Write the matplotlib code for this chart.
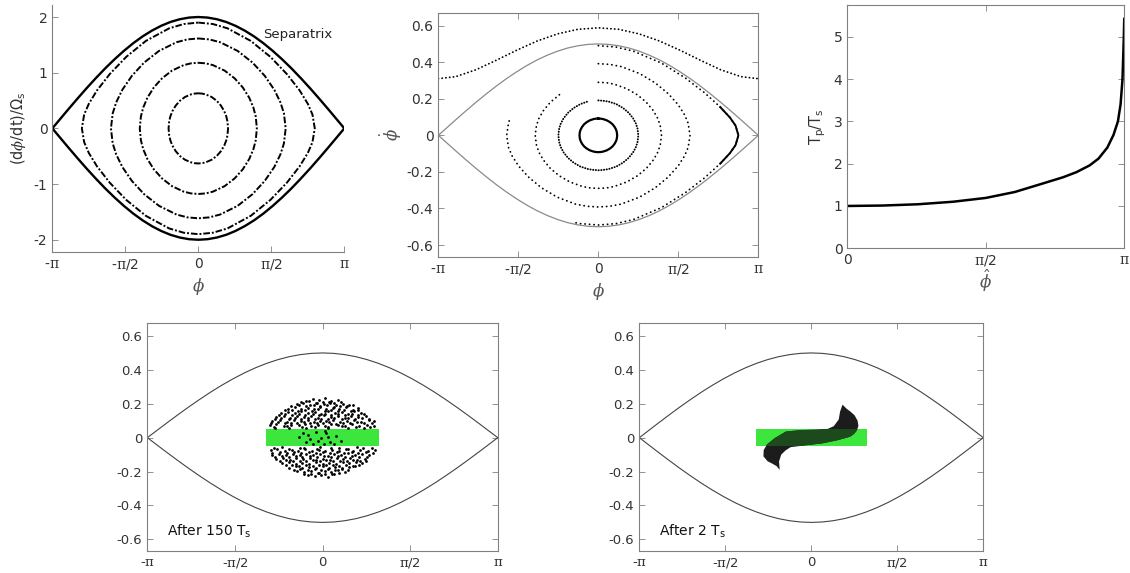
import numpy as np
import matplotlib
matplotlib.use("Agg")
import matplotlib.pyplot as plt
from matplotlib.patches import Polygon, Rectangle

plt.rcParams.update({
    "font.family": "DejaVu Sans",
    "mathtext.fontset": "custom",
    "mathtext.rm": "DejaVu Serif",
    "mathtext.it": "DejaVu Serif:italic",
    "mathtext.sf": "DejaVu Sans",
    "mathtext.bf": "DejaVu Serif:bold",
    "axes.unicode_minus": False,
})

PI = np.pi
TICK_C = "#333333"
SPINE_C = "#808080"
LABEL_C = "#555555"
GREEN = "#3ce63c"
DARK_GREEN = "#1d4a1d"

phi_ticks = [-PI, -PI / 2, 0, PI / 2, PI]
phi_labels = [r"-$\mathrm{\pi}$", r"-$\mathrm{\pi}$/2", "0", r"$\mathrm{\pi}$/2", r"$\mathrm{\pi}$"]

# separatrix, upper half for phi >= 0, in (dphi/dt)/Omega_s units (mirror symmetric)
sep_phi = [0, 0.2, 0.4, 0.6, 0.8, 1.0, 1.2, 1.4, 1.6, 1.8, 2.0, 2.2, 2.4, 2.6, 2.8, 3.0, PI]
sep_rate = [2.0, 1.99, 1.96, 1.911, 1.842, 1.755, 1.651, 1.53, 1.393, 1.243, 1.081,
            0.907, 0.725, 0.535, 0.34, 0.141, 0.0]

# panel (a): closed orbits, one quarter each (phi >= 0, rate >= 0)
orbit_a_phi = [
    [0, 0.08, 0.16, 0.288, 0.397, 0.486, 0.557, 0.602, 0.627, 0.64],
    [0, 0.158, 0.315, 0.567, 0.781, 0.958, 1.096, 1.184, 1.235, 1.26],
    [0, 0.235, 0.47, 0.846, 1.166, 1.429, 1.636, 1.767, 1.842, 1.88],
    [0, 0.313, 0.627, 1.128, 1.554, 1.905, 2.180, 2.356, 2.456, 2.506],
]
orbit_a_rate = [
    [0.63, 0.625, 0.61, 0.563, 0.495, 0.41, 0.311, 0.215, 0.125, 0],
    [1.178, 1.168, 1.136, 1.037, 0.899, 0.734, 0.550, 0.377, 0.217, 0],
    [1.615, 1.598, 1.547, 1.391, 1.182, 0.944, 0.692, 0.467, 0.271, 0],
    [1.9, 1.874, 1.797, 1.571, 1.282, 0.976, 0.682, 0.442, 0.249, 0],
]

# panel (b): tracked particles, quarter profiles plus where each track stops
track_phi = [
    [0, 0.046, 0.093, 0.167, 0.229, 0.281, 0.322, 0.348, 0.363, 0.37],
    [0, 0.098, 0.196, 0.353, 0.487, 0.597, 0.683, 0.738, 0.769, 0.785],
    [0, 0.155, 0.31, 0.558, 0.769, 0.942, 1.079, 1.166, 1.215, 1.24],
    [0, 0.225, 0.45, 0.81, 1.116, 1.368, 1.566, 1.692, 1.764, 1.8],
    [0, 0.344, 0.6875, 1.2375, 1.705, 2.09, 2.3925, 2.585, 2.695, 2.75],
]
track_rate = [
    [0.092, 0.0913, 0.089, 0.082, 0.072, 0.060, 0.045, 0.031, 0.018, 0],
    [0.191, 0.189, 0.185, 0.171, 0.149, 0.123, 0.093, 0.064, 0.037, 0],
    [0.29, 0.288, 0.28, 0.255, 0.221, 0.181, 0.135, 0.093, 0.053, 0],
    [0.392, 0.388, 0.376, 0.338, 0.287, 0.229, 0.168, 0.113, 0.066, 0],
    [0.4905, 0.483, 0.4606, 0.3955, 0.3143, 0.2317, 0.1548, 0.0971, 0.0529, 0],
]
track_end = [None, (-0.2, 0.186), (-0.72, 0.233), (-1.73, 0.098), (-0.49, -0.476)]

rot_phi = [-PI, -2.8, -2.4, -2.0, -1.6, -1.2, -0.8, -0.4, 0, 0.4, 0.8, 1.2, 1.6, 2.0, 2.4, 2.8, PI]
rot_rate = [0.31, 0.321, 0.359, 0.411, 0.466, 0.516, 0.555, 0.58, 0.588,
            0.58, 0.555, 0.516, 0.466, 0.411, 0.359, 0.321, 0.31]

# panel (c): period ratio vs amplitude
amp = [0, 0.4, 0.8, 1.2, 1.571, 1.9, 2.2, 2.45, 2.6, 2.75, 2.85, 2.95, 3.02, 3.07, 3.1, 3.122, 3.137, 3.1416]
period_ratio = [1.0, 1.01, 1.04, 1.1, 1.19, 1.33, 1.52, 1.68, 1.8, 1.96, 2.12, 2.38, 2.68, 3.0, 3.4, 4.0, 5.0, 5.42]

# initial green bunch
band_phi = [-1.01, 1.01]
band_lo, band_hi = -0.05, 0.05

# bunch after 150 Ts (estimated particle positions)
cloud = [
    (-0.3, 0.215), (-0.17, 0.228), (-0.06, 0.221), (0.05, 0.232), (0.16, 0.218), (0.27, 0.225),
    (-0.46, 0.197), (-0.35, 0.205), (-0.22, 0.193), (-0.1, 0.207), (0.02, 0.199), (0.14, 0.204),
    (0.24, 0.192), (0.37, 0.2), (0.47, 0.19),
    (-0.62, 0.172), (-0.5, 0.18), (-0.39, 0.168), (-0.27, 0.178), (-0.15, 0.17), (-0.04, 0.182),
    (0.07, 0.168), (0.18, 0.177), (0.3, 0.171), (0.42, 0.181), (0.55, 0.166), (0.63, 0.175),
    (-0.74, 0.146), (-0.62, 0.153), (-0.5, 0.143), (-0.38, 0.156), (-0.26, 0.147), (-0.13, 0.152),
    (-0.02, 0.141), (0.1, 0.155), (0.22, 0.145), (0.34, 0.151), (0.46, 0.142), (0.57, 0.157), (0.69, 0.148),
    (-0.83, 0.122), (-0.7, 0.128), (-0.58, 0.119), (-0.45, 0.13), (-0.33, 0.121), (-0.21, 0.127),
    (-0.09, 0.118), (0.03, 0.131), (0.15, 0.12), (0.27, 0.126), (0.4, 0.119), (0.51, 0.129),
    (0.64, 0.121), (0.78, 0.127),
    (-0.9, 0.097), (-0.77, 0.104), (-0.64, 0.095), (-0.52, 0.103), (-0.39, 0.098), (-0.27, 0.106),
    (-0.16, 0.094), (-0.05, 0.101), (0.07, 0.096), (0.19, 0.104), (0.31, 0.093), (0.44, 0.1),
    (0.56, 0.106), (0.69, 0.095), (0.83, 0.102), (0.92, 0.097),
    (-0.95, 0.072), (-0.83, 0.079), (-0.7, 0.07), (-0.57, 0.077), (-0.43, 0.074), (-0.31, 0.081),
    (-0.2, 0.069), (-0.08, 0.076), (0.04, 0.071), (0.15, 0.079), (0.28, 0.073), (0.4, 0.067),
    (0.53, 0.078), (0.66, 0.071), (0.79, 0.076), (0.93, 0.07),
    (-0.85, 0.056), (-0.6, 0.06), (-0.3, 0.055), (0.1, 0.058), (0.45, 0.057), (0.75, 0.06),
    (-0.35, 0.03), (-0.22, -0.01), (-0.12, 0.035), (-0.03, 0.0), (0.06, 0.028), (0.14, -0.025),
    (0.24, 0.012), (-0.18, -0.035), (0.02, -0.04), (0.33, -0.02), (-0.42, 0.005),
    (-0.72, -0.057), (-0.4, -0.06), (-0.05, -0.056), (0.3, -0.058), (0.62, -0.055), (0.88, -0.06),
    (-0.93, -0.074), (-0.81, -0.068), (-0.68, -0.079), (-0.55, -0.071), (-0.44, -0.077), (-0.32, -0.069),
    (-0.19, -0.08), (-0.07, -0.072), (0.05, -0.078), (0.17, -0.07), (0.3, -0.076), (0.42, -0.068),
    (0.55, -0.079), (0.68, -0.073), (0.82, -0.077), (0.94, -0.071),
    (-0.91, -0.101), (-0.79, -0.095), (-0.66, -0.105), (-0.53, -0.097), (-0.41, -0.103), (-0.29, -0.094),
    (-0.17, -0.104), (-0.04, -0.098), (0.09, -0.106), (0.21, -0.095), (0.33, -0.1), (0.46, -0.093),
    (0.58, -0.104), (0.71, -0.097), (0.84, -0.103),
    (-0.84, -0.127), (-0.71, -0.12), (-0.59, -0.13), (-0.47, -0.122), (-0.35, -0.128), (-0.23, -0.119),
    (-0.11, -0.13), (0.01, -0.123), (0.13, -0.129), (0.25, -0.12), (0.37, -0.127), (0.5, -0.121),
    (0.62, -0.13), (0.76, -0.124),
    (-0.73, -0.152), (-0.6, -0.145), (-0.48, -0.155), (-0.36, -0.147), (-0.24, -0.153), (-0.12, -0.144),
    (0.0, -0.156), (0.12, -0.148), (0.24, -0.154), (0.36, -0.145), (0.48, -0.152), (0.6, -0.146), (0.71, -0.151),
    (-0.6, -0.177), (-0.48, -0.17), (-0.36, -0.18), (-0.24, -0.172), (-0.12, -0.179), (0.0, -0.169),
    (0.11, -0.178), (0.23, -0.171), (0.35, -0.18), (0.47, -0.173), (0.59, -0.168),
    (-0.45, -0.196), (-0.33, -0.203), (-0.2, -0.194), (-0.08, -0.206), (0.04, -0.197), (0.16, -0.204),
    (0.28, -0.193), (0.4, -0.2),
    (-0.26, -0.219), (-0.13, -0.228), (-0.02, -0.222), (0.1, -0.231), (0.21, -0.217),
]
cloud_extra = [
    (-0.38, 0.208), (-0.24, 0.214), (-0.11, 0.206), (0.0, 0.213), (0.12, 0.209), (0.21, 0.204), (0.33, 0.211),
    (-0.56, 0.186), (-0.43, 0.19), (-0.3, 0.184), (-0.16, 0.192), (-0.05, 0.186), (0.08, 0.19),
    (0.2, 0.183), (0.31, 0.189), (0.43, 0.185), (0.54, 0.191),
    (-0.68, 0.161), (-0.55, 0.166), (-0.44, 0.159), (-0.32, 0.164), (-0.19, 0.16), (-0.08, 0.167),
    (0.04, 0.158), (0.15, 0.165), (0.27, 0.16), (0.39, 0.163), (0.51, 0.159), (0.64, 0.166),
    (-0.79, 0.136), (-0.67, 0.14), (-0.54, 0.134), (-0.42, 0.139), (-0.31, 0.135), (-0.18, 0.141),
    (-0.06, 0.134), (0.05, 0.139), (0.16, 0.133), (0.28, 0.14), (0.4, 0.136), (0.52, 0.138),
    (0.63, 0.133), (0.75, 0.139),
    (-0.86, 0.111), (-0.74, 0.115), (-0.61, 0.109), (-0.5, 0.114), (-0.38, 0.11), (-0.26, 0.116),
    (-0.14, 0.109), (-0.03, 0.113), (0.09, 0.108), (0.21, 0.115), (0.34, 0.11), (0.46, 0.114),
    (0.58, 0.109), (0.71, 0.116), (0.84, 0.111),
    (-0.92, 0.086), (-0.8, 0.09), (-0.68, 0.084), (-0.56, 0.089), (-0.45, 0.085), (-0.33, 0.091),
    (-0.22, 0.084), (-0.1, 0.088), (0.01, 0.085), (0.12, 0.09), (0.24, 0.083), (0.37, 0.089),
    (0.5, 0.086), (0.61, 0.091), (0.74, 0.084), (0.88, 0.088),
    (-0.87, 0.063), (-0.63, 0.066), (-0.37, 0.061), (-0.13, 0.064), (0.09, 0.062), (0.34, 0.066),
    (0.6, 0.061), (0.85, 0.064),
    (-0.27, 0.018), (-0.08, -0.018), (0.1, 0.005), (0.2, -0.038), (-0.3, -0.028), (0.04, 0.042),
    (-0.87, -0.063), (-0.6, -0.065), (-0.33, -0.062), (-0.1, -0.066), (0.16, -0.063), (0.45, -0.064),
    (0.72, -0.062),
    (-0.9, -0.088), (-0.77, -0.085), (-0.64, -0.091), (-0.51, -0.086), (-0.38, -0.09), (-0.25, -0.084),
    (-0.12, -0.089), (0.01, -0.086), (0.14, -0.091), (0.26, -0.085), (0.39, -0.09), (0.52, -0.084),
    (0.64, -0.089), (0.77, -0.086), (0.9, -0.09),
    (-0.85, -0.113), (-0.72, -0.11), (-0.6, -0.116), (-0.48, -0.111), (-0.36, -0.115), (-0.23, -0.109),
    (-0.1, -0.114), (0.03, -0.11), (0.15, -0.116), (0.28, -0.111), (0.41, -0.115), (0.53, -0.109),
    (0.66, -0.114), (0.8, -0.112),
    (-0.77, -0.138), (-0.65, -0.134), (-0.53, -0.14), (-0.41, -0.135), (-0.29, -0.139), (-0.17, -0.133),
    (-0.05, -0.138), (0.07, -0.134), (0.19, -0.14), (0.31, -0.135), (0.43, -0.139), (0.55, -0.134),
    (0.67, -0.138), (0.77, -0.136),
    (-0.66, -0.163), (-0.54, -0.16), (-0.42, -0.166), (-0.3, -0.161), (-0.18, -0.165), (-0.06, -0.159),
    (0.06, -0.164), (0.18, -0.16), (0.3, -0.166), (0.42, -0.161), (0.54, -0.165), (0.65, -0.16),
    (-0.52, -0.188), (-0.4, -0.185), (-0.27, -0.19), (-0.14, -0.186), (-0.02, -0.191), (0.1, -0.185),
    (0.22, -0.19), (0.34, -0.186), (0.46, -0.189),
    (-0.33, -0.212), (-0.2, -0.215), (-0.07, -0.211), (0.05, -0.216), (0.17, -0.212), (0.29, -0.21),
]

# bunch after 2 Ts: outline of the sheared filament
s_phi = [0.57, 0.64, 0.71, 0.79, 0.845, 0.86, 0.83, 0.78, 0.71, 0.49, 0.21, -0.13, -0.38, -0.47,
         -0.55, -0.59, -0.578, -0.634, -0.72, -0.8, -0.875, -0.87, -0.81, -0.67, -0.466, -0.185,
         0.095, 0.3, 0.41, 0.5, 0.525]
s_rate = [0.195, 0.172, 0.155, 0.132, 0.1, 0.069, 0.042, 0.022, 0.006, -0.014, -0.033, -0.046, -0.056,
          -0.075, -0.1, -0.14, -0.19, -0.168, -0.152, -0.139, -0.11, -0.073, -0.04, -0.003,
          0.036, 0.045, 0.047, 0.052, 0.068, 0.107, 0.154]


def mirror_full(ph, y):
    ph = np.asarray(ph, float)
    y = np.asarray(y, float)
    x_up = np.r_[-ph[::-1], ph[1:]]
    y_up = np.r_[y[::-1], y[1:]]
    return x_up, y_up


def clockwise(ph, y, end=None):
    ph = np.asarray(ph, float)
    y = np.asarray(y, float)
    q = len(ph) - 1
    xs = np.r_[ph, ph[::-1][1:], -ph[1:], -ph[::-1][1:]]
    ys = np.r_[y, -y[::-1][1:], -y[1:], y[::-1][1:]]
    if end is None:
        return xs, ys
    if end[1] < 0:
        idx = 2 * q + 1 + np.count_nonzero(-ph[1:] > end[0])
    else:
        idx = 3 * q + 1 + np.count_nonzero(-ph[::-1][1:] < end[0])
    return np.r_[xs[:idx], end[0]], np.r_[ys[:idx], end[1]]


def style(ax, box=True, size=9.5):
    for s in ax.spines.values():
        s.set_color(SPINE_C)
        s.set_linewidth(0.8)
    if not box:
        ax.spines["top"].set_visible(False)
        ax.spines["right"].set_visible(False)
    ax.tick_params(direction="in", length=4, width=0.6, color=SPINE_C,
                   labelcolor=TICK_C, labelsize=size, top=box, right=box)


def phi_axis(ax):
    ax.set_xlim(-PI, PI)
    ax.set_xticks(phi_ticks)
    ax.set_xticklabels(phi_labels)


fig = plt.figure(figsize=(11.3, 5.73), dpi=100)

# (a) phase-space orbits
ax1 = fig.add_axes([0.0463, 0.5607, 0.2584, 0.4305])
sx, sy = mirror_full(sep_phi, sep_rate)
ax1.plot(sx, sy, color="k", lw=1.7)
ax1.plot(sx, -sy, color="k", lw=1.7)
for ph, r in zip(orbit_a_phi, orbit_a_rate):
    ox, oy = clockwise(ph, r)
    ax1.plot(ox, oy, color="k", lw=1.4, linestyle=(0, (3.4, 1.0, 1.0, 1.0)))
ax1.text(1.39, 1.68, "Separatrix", fontsize=9.5, va="center", color="#222222")
phi_axis(ax1)
ax1.set_ylim(-2.215, 2.215)
ax1.set_yticks([-2, -1, 0, 1, 2])
style(ax1, box=False, size=10)
ax1.set_xlabel(r"$\phi$", fontsize=12, color=LABEL_C, labelpad=3)
ax1.set_ylabel(r"(d$\phi$/dt)/$\mathsf{\Omega}_\mathsf{s}$", fontsize=10.5, color=TICK_C)

# (b) tracked particles
ax2 = fig.add_axes([0.3879, 0.5510, 0.2832, 0.4269])
ax2.plot(sx, sy / 4, color="#8a8a8a", lw=0.9)
ax2.plot(sx, -sy / 4, color="#8a8a8a", lw=0.9)
for i, (ph, r, end) in enumerate(zip(track_phi, track_rate, track_end)):
    tx, ty = clockwise(ph, r, end)
    if i == 0:
        ax2.plot(tx, ty, color="k", lw=1.6)
    elif i == 1:
        ax2.plot(tx, ty, color="k", lw=1.4, linestyle=(0, (0.1, 1.3)), dash_capstyle="round")
    else:
        ax2.plot(tx, ty, color="k", lw=1.3, linestyle=(0, (0.1, 2.4)), dash_capstyle="round")
    if i == 4:
        tip = tx >= 2.39
        ax2.plot(tx[tip], ty[tip], color="k", lw=1.4)
ax2.plot(rot_phi, rot_rate, color="k", lw=1.3, linestyle=(0, (0.1, 2.0)), dash_capstyle="round")
phi_axis(ax2)
ax2.set_ylim(-0.667, 0.671)
ax2.set_yticks([-0.6, -0.4, -0.2, 0, 0.2, 0.4, 0.6])
ax2.set_yticklabels(["-0.6", "-0.4", "-0.2", "0", "0.2", "0.4", "0.6"])
style(ax2, size=10)
ax2.set_xlabel(r"$\phi$", fontsize=12, color=LABEL_C, labelpad=3)
ax2.set_ylabel(r"$\dot{\phi}$", fontsize=12, color=LABEL_C, labelpad=2)

# (c) period ratio
ax3 = fig.add_axes([0.7498, 0.5667, 0.2451, 0.4246])
ax3.plot(amp, period_ratio, color="k", lw=1.8)
ax3.set_xlim(0, PI)
ax3.set_xticks([0, PI / 2, PI])
ax3.set_xticklabels(["0", r"$\mathrm{\pi}$/2", r"$\mathrm{\pi}$"])
ax3.set_ylim(0, 5.75)
ax3.set_yticks([0, 1, 2, 3, 4, 5])
style(ax3, size=10)
ax3.set_xlabel(r"$\hat{\phi}$", fontsize=12, color=LABEL_C, labelpad=0)
ax3.set_ylabel(r"T$_\mathsf{p}$/T$_\mathsf{s}$", fontsize=10.5, color=TICK_C)

# (d), (e) bunch snapshots
bottom_axes = [
    fig.add_axes([0.1304, 0.0389, 0.3101, 0.3969]),
    fig.add_axes([0.5658, 0.0389, 0.3044, 0.3969]),
]
for ax in bottom_axes:
    ax.plot(sx, sy / 4, color="#444444", lw=0.8)
    ax.plot(sx, -sy / 4, color="#444444", lw=0.8)
    ax.fill_between(band_phi, band_lo, band_hi, color=GREEN, lw=0, zorder=2)
    phi_axis(ax)
    ax.set_ylim(-0.667, 0.675)
    ax.set_yticks([-0.6, -0.4, -0.2, 0, 0.2, 0.4, 0.6])
    ax.set_yticklabels(["-0.6", "-0.4", "-0.2", "0", "0.2", "0.4", "0.6"])
    style(ax, size=9.5)

ax4, ax5 = bottom_axes
pts = cloud + cloud_extra
cx = [p[0] for p in pts]
cy = [p[1] for p in pts]
ax4.plot(cx, cy, "o", color="k", ms=2.0, mew=0, zorder=3)
ax4.text(-2.79, -0.555, r"After 150 T$_\mathsf{s}$", fontsize=10, va="center", color="#111111")

s_xy = np.column_stack([s_phi, s_rate])
ax5.add_patch(Polygon(s_xy, closed=True, facecolor="#1c1c1c", edgecolor="none", zorder=3))
overlap = Polygon(s_xy, closed=True, facecolor=DARK_GREEN, edgecolor="none", zorder=4)
ax5.add_patch(overlap)
clip = Rectangle((band_phi[0], band_lo), band_phi[1] - band_phi[0], band_hi - band_lo,
                 transform=ax5.transData)
overlap.set_clip_path(clip)
ax5.text(-2.79, -0.555, r"After 2 T$_\mathsf{s}$", fontsize=10, va="center", color="#111111")

fig.savefig("out.png", dpi=100, facecolor="white")
